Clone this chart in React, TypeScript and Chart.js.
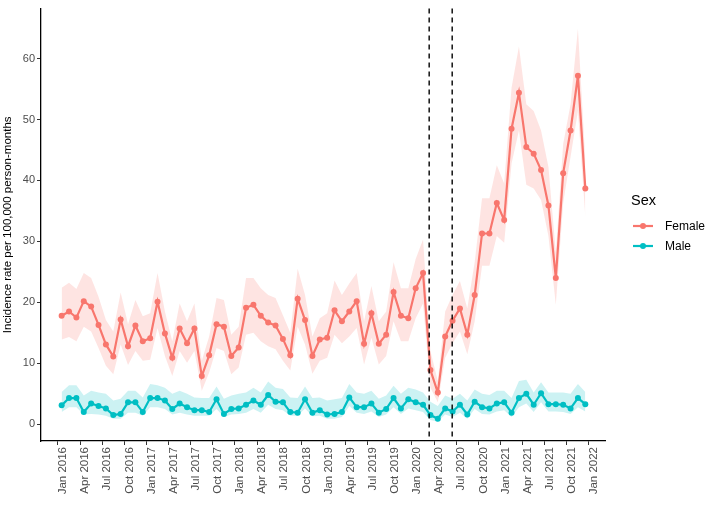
import React, { useEffect, useRef } from "react";
import { Chart, registerables } from "chart.js";

Chart.register(...registerables);

// Months since Jan 2016; each observation sits at mid-month
const tickLabels = [
  "Jan 2016", "Apr 2016", "Jul 2016", "Oct 2016",
  "Jan 2017", "Apr 2017", "Jul 2017", "Oct 2017",
  "Jan 2018", "Apr 2018", "Jul 2018", "Oct 2018",
  "Jan 2019", "Apr 2019", "Jul 2019", "Oct 2019",
  "Jan 2020", "Apr 2020", "Jul 2020", "Oct 2020",
  "Jan 2021", "Apr 2021", "Jul 2021", "Oct 2021",
  "Jan 2022",
];
const yTicks = [0, 10, 20, 30, 40, 50, 60];
const interventionMonths = [50.33, 53.45];

const femaleRate = [
  17.8, 18.5, 17.5, 20.2, 19.3, 16.3, 13.1, 11.1, 17.2, 12.8,
  16.2, 13.6, 14.1, 20.1, 14.9, 10.9, 15.7, 13.3, 15.7, 7.9,
  11.3, 16.4, 16.0, 11.2, 12.6, 19.1, 19.6, 17.8, 16.7, 16.2,
  14.0, 11.3, 20.6, 17.1, 11.2, 13.9, 14.2, 18.7, 16.9, 18.5,
  20.2, 13.2, 18.2, 13.2, 14.7, 21.7, 17.8, 17.4, 22.3, 24.8,
  8.9, 5.2, 14.4, 17.0, 19.0, 14.7, 21.2, 31.3, 31.3, 36.3,
  33.5, 48.5, 54.4, 45.5, 44.4, 41.7, 35.9, 24.0, 41.2, 48.2, 57.2, 38.7,
];
const femaleUpper = [
  22.4, 23.2, 22.2, 24.8, 24.0, 20.9, 17.1, 15.2, 21.6, 16.4,
  20.4, 17.7, 18.2, 24.8, 18.5, 13.6, 19.8, 16.9, 19.8, 10.4,
  14.4, 20.7, 20.4, 14.7, 16.0, 24.0, 24.0, 22.3, 21.2, 20.7,
  17.9, 15.0, 25.5, 21.2, 14.4, 17.4, 18.2, 23.6, 21.2, 23.1,
  24.8, 16.9, 22.7, 16.9, 18.5, 26.6, 22.3, 22.3, 27.1, 30.3,
  12.0, 7.1, 18.5, 21.2, 23.5, 19.0, 26.6, 37.1, 37.1, 42.5,
  39.5, 55.2, 62.0, 52.5, 51.4, 48.2, 42.2, 28.2, 46.0, 52.5, 64.9, 43.3,
];
const femaleLower = [
  13.9, 14.3, 13.6, 16.0, 15.2, 12.5, 9.6, 8.2, 13.1, 9.7,
  12.0, 10.4, 10.6, 15.8, 11.2, 7.9, 12.0, 10.1, 12.0, 5.5,
  8.5, 12.5, 12.0, 8.2, 9.3, 14.7, 15.0, 13.6, 12.8, 12.3,
  10.4, 8.8, 16.0, 13.1, 8.3, 10.4, 10.9, 14.7, 13.3, 14.4,
  15.8, 9.8, 14.2, 9.8, 11.2, 16.9, 13.6, 13.6, 17.4, 19.8,
  6.0, 3.6, 10.9, 13.3, 15.2, 11.5, 16.9, 26.0, 26.0, 30.9,
  29.8, 42.8, 48.2, 39.3, 38.7, 36.8, 30.9, 19.6, 36.3, 43.9, 51.4, 34.1,
];
const maleRate = [
  3.1, 4.3, 4.3, 2.0, 3.4, 3.0, 2.6, 1.5, 1.7, 3.6,
  3.6, 2.0, 4.3, 4.3, 3.9, 2.5, 3.4, 2.8, 2.3, 2.3,
  2.0, 4.1, 1.7, 2.5, 2.6, 3.2, 3.9, 3.2, 4.8, 3.7,
  3.6, 2.0, 1.9, 4.1, 1.9, 2.3, 1.6, 1.7, 2.0, 4.4,
  2.8, 2.8, 3.4, 1.9, 2.5, 4.3, 2.6, 4.1, 3.6, 3.2,
  1.5, 0.9, 2.6, 2.1, 3.2, 1.6, 3.7, 2.8, 2.6, 3.4,
  3.6, 1.9, 4.3, 5.0, 3.2, 5.1, 3.3, 3.3, 3.2, 2.6, 4.3, 3.3,
];
const maleUpper = [
  5.3, 6.4, 6.4, 4.7, 5.5, 5.2, 5.0, 3.9, 4.2, 5.5,
  5.5, 4.4, 6.6, 6.4, 6.0, 5.0, 5.5, 5.0, 4.4, 4.3,
  4.3, 6.2, 4.2, 4.7, 5.0, 5.2, 6.0, 5.2, 7.0, 6.0,
  5.8, 4.4, 4.3, 6.2, 4.3, 4.4, 3.9, 4.1, 4.3, 6.6,
  5.2, 5.0, 5.5, 4.2, 4.7, 6.3, 5.0, 6.0, 5.7, 5.2,
  3.7, 3.0, 4.7, 4.2, 5.0, 3.9, 5.7, 5.0, 4.8, 5.5,
  5.5, 4.3, 7.1, 7.3, 5.2, 6.9, 5.2, 5.2, 5.2, 5.0, 6.6, 5.3,
];
const maleLower = [
  2.0, 2.8, 2.8, 1.6, 1.7, 1.6, 1.4, 0.9, 0.9, 1.9,
  1.9, 1.4, 2.8, 2.8, 2.5, 1.6, 1.9, 1.6, 1.4, 1.4,
  1.4, 2.5, 1.2, 1.6, 1.7, 1.9, 2.5, 1.9, 3.2, 2.5,
  2.3, 1.4, 1.4, 2.6, 1.3, 1.4, 0.9, 0.9, 1.2, 3.0,
  1.9, 1.7, 2.1, 1.2, 1.6, 2.8, 1.7, 2.6, 2.3, 2.0,
  0.7, 0.4, 1.6, 1.2, 1.9, 0.9, 2.5, 1.7, 1.6, 2.1,
  2.3, 1.2, 2.8, 3.4, 2.0, 3.6, 2.1, 2.1, 2.0, 1.7, 2.8, 2.1,
];

const FEMALE = "#F8766D";
const MALE = "#00BFC4";
const FONT = "'Liberation Sans', Arial, sans-serif";

const toPts = (arr: number[]) => arr.map((v, i) => ({ x: i + 0.5, y: v }));

export default function App() {
  const ref = useRef<HTMLCanvasElement>(null);

  useEffect(() => {
    if (!ref.current) return;

    const overlay = {
      id: "overlay",
      afterDatasetsDraw(chart: any) {
        const { ctx, chartArea, scales } = chart;
        ctx.save();
        ctx.strokeStyle = "#000";
        ctx.lineWidth = 1.4;
        ctx.setLineDash([5, 4]);
        for (const m of interventionMonths) {
          const x = scales.x.getPixelForValue(m);
          ctx.beginPath();
          ctx.moveTo(x, chartArea.top);
          ctx.lineTo(x, chartArea.bottom);
          ctx.stroke();
        }
        ctx.restore();
      },
      afterDraw(chart: any) {
        const { ctx } = chart;
        ctx.save();
        ctx.fillStyle = "#000";
        ctx.textBaseline = "middle";
        ctx.font = `14.5px ${FONT}`;
        ctx.fillText("Sex", 631, 201);
        const items = [
          { label: "Female", color: FEMALE, y: 226 },
          { label: "Male", color: MALE, y: 246 },
        ];
        for (const it of items) {
          ctx.strokeStyle = it.color;
          ctx.lineWidth = 2.2;
          ctx.beginPath();
          ctx.moveTo(633, it.y);
          ctx.lineTo(653, it.y);
          ctx.stroke();
          ctx.fillStyle = it.color;
          ctx.beginPath();
          ctx.arc(643, it.y, 3, 0, Math.PI * 2);
          ctx.fill();
          ctx.fillStyle = "#000";
          ctx.font = `12px ${FONT}`;
          ctx.fillText(it.label, 665, it.y + 0.5);
        }
        ctx.restore();
      },
    };

    const band = (data: number[], color: string, fillPrev: boolean) => ({
      data: toPts(data),
      borderWidth: 0,
      pointRadius: 0,
      borderColor: "transparent",
      backgroundColor: color,
      fill: fillPrev ? "-1" : false,
      tension: 0,
    });
    const line = (data: number[], color: string) => ({
      data: toPts(data),
      borderColor: color,
      backgroundColor: color,
      borderWidth: 2.2,
      pointRadius: 3,
      pointBorderWidth: 0,
      fill: false,
      tension: 0,
    });

    const chart = new Chart(ref.current, {
      type: "line",
      data: {
        datasets: [
          band(femaleLower, "rgba(248,118,109,0.2)", false),
          band(femaleUpper, "rgba(248,118,109,0.2)", true),
          band(maleLower, "rgba(0,191,196,0.2)", false),
          band(maleUpper, "rgba(0,191,196,0.2)", true),
          line(femaleRate, FEMALE),
          line(maleRate, MALE),
        ] as any,
      },
      options: {
        responsive: false,
        animation: false,
        events: [],
        layout: { padding: { top: 3, right: 104, left: 0, bottom: 0 } },
        plugins: { legend: { display: false }, tooltip: { enabled: false } },
        scales: {
          x: {
            type: "linear",
            min: -2.3,
            max: 74.17,
            afterBuildTicks: (s: any) => {
              s.ticks = tickLabels.map((_, i) => ({ value: i * 3 }));
            },
            afterFit: (s: any) => {
              s.height = 65;
            },
            ticks: {
              autoSkip: false,
              minRotation: 90,
              maxRotation: 90,
              padding: 2,
              labelOffset: 5,
              color: "#4D4D4D",
              font: { family: FONT, size: 11.5 },
              callback: (v: any) => tickLabels[Math.round(Number(v) / 3)] ?? "",
            },
            grid: { drawOnChartArea: false, drawTicks: true, tickLength: 4, color: "#333" },
            border: { display: true, color: "#000", width: 1.3 },
          },
          y: {
            type: "linear",
            min: -2.75,
            max: 68.2,
            afterBuildTicks: (s: any) => {
              s.ticks = yTicks.map((v) => ({ value: v }));
            },
            afterFit: (s: any) => {
              s.width = 41;
            },
            ticks: {
              padding: 2,
              color: "#4D4D4D",
              font: { family: FONT, size: 11 },
            },
            title: {
              display: true,
              text: "Incidence rate per 100,000 person-months",
              color: "#000",
              font: { family: FONT, size: 11.5 },
              padding: { top: 1, bottom: 0 },
            },
            grid: { drawOnChartArea: false, drawTicks: true, tickLength: 4, color: "#333" },
            border: { display: true, color: "#000", width: 1.3 },
          },
        },
      },
      plugins: [overlay],
    } as any);

    return () => chart.destroy();
  }, []);

  return (
    <div style={{ position: "fixed", left: 0, top: 0, width: 709, height: 506, background: "#fff" }}>
      <canvas ref={ref} width={709} height={506} style={{ display: "block" }} />
    </div>
  );
}
